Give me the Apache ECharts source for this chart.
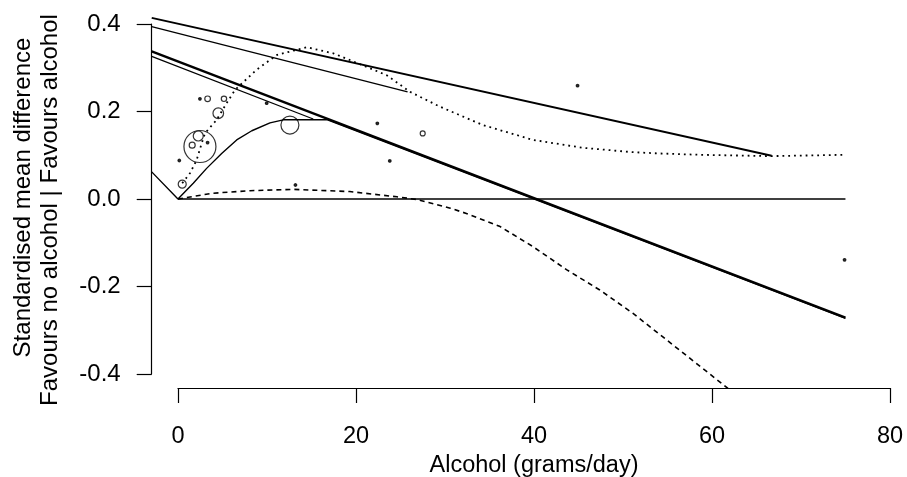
<!DOCTYPE html>
<html>
<head>
<meta charset="utf-8">
<script src="https://cdn.jsdelivr.net/npm/echarts@6/dist/echarts.min.js"></script>
<style>
  html, body { margin: 0; padding: 0; background: #fff; }
  #chart { width: 907px; height: 477px; }
</style>
</head>
<body>
<div id="chart"></div>
<script>
// axis ticks
const xTicks = [0, 20, 40, 60, 80];
const yTicks = [-0.4, -0.2, 0.0, 0.2, 0.4];

// fitted curves as [alcohol, smd]
const noEffectLine = [[0, 0], [75, 0]];
const linearFit = [[-2.95, 0.3375], [75, -0.271]];
const linearFitLow = [[-2.95, 0.326], [15.2, 0.183]];
const upperBoundA = [[-2.95, 0.414], [66.7, 0.099]];
const upperBoundB = [[-2.95, 0.394], [25.8, 0.245]];
const thresholdFit = [
  [-2.95, 0.062], [0, 0], [1.72, 0.036], [3.22, 0.070], [4.91, 0.104],
  [6.6, 0.135], [8.3, 0.156], [10.34, 0.174], [11.83, 0.181], [16.8, 0.181],
  [75, -0.273]
];
const dottedFit = [
  [0.48, 0.036], [1.35, 0.059], [2.1, 0.089], [2.66, 0.127], [3.03, 0.150],
  [4.35, 0.181], [5.47, 0.219], [6.4, 0.249], [8.8, 0.295], [11.1, 0.329],
  [14.46, 0.347], [17.45, 0.333], [21.2, 0.302], [23.45, 0.283], [26.07, 0.245],
  [29.44, 0.211], [34.27, 0.169], [39.9, 0.135], [45.5, 0.117], [51.1, 0.107],
  [54.2, 0.104], [58.65, 0.101], [66.6, 0.098], [75, 0.101]
];
const dashedFit = [
  [0, 0], [3.79, 0.013], [8.09, 0.019], [12.96, 0.022], [19.3, 0.017],
  [24.6, 0.005], [26.8, -0.001], [30.6, -0.021], [32.4, -0.033], [36.2, -0.063],
  [39.9, -0.109], [43.7, -0.162], [47.4, -0.208], [51.1, -0.261], [54.9, -0.322],
  [58.7, -0.383], [61.8, -0.433]
];

// studies
const studyDose = [2.47, 2.28, 1.60, 3.33, 0.15, 0.48, 4.53, 5.17, 3.33, 2.47, 12.58, 13.2, 22.4, 23.8, 27.5, 44.9, 74.9, 9.97];
const studySmd = [0.120, 0.144, 0.123, 0.129, 0.088, 0.034, 0.196, 0.229, 0.229, 0.229, 0.169, 0.032, 0.173, 0.087, 0.150, 0.259, -0.139, 0.219];
const studyWeight = [100, 9.8, 3.5, 0.66, 0.66, 6.25, 11, 2.8, 3.1, 0.66, 31.6, 0.66, 0.66, 0.66, 2.4, 0.66, 0.66, 0.5];

const font = 'Liberation Sans';
const fs = 24;

function line(data, width, type) {
  return {
    type: 'line', xAxisIndex: 0, yAxisIndex: 0, data: data,
    showSymbol: false, symbol: 'none', silent: true, clip: true,
    lineStyle: { color: '#000', width: width, type: type || 'solid' }
  };
}

function bubbleSize(w) {
  return Math.max(2.6, 32 * Math.sqrt(w / 100));
}

const chart = echarts.init(document.getElementById('chart'), null, { renderer: 'canvas' });
chart.setOption({
  animation: false,
  backgroundColor: '#fff',
  grid: [
    { left: 151.7, top: 10, width: 742.7, height: 378, outerBoundsMode: 'none' },
    { left: 178, top: 24, width: 712, height: 350, outerBoundsMode: 'none' }
  ],
  xAxis: [
    { gridIndex: 0, type: 'value', min: -2.95, max: 80.5, show: false },
    {
      gridIndex: 1, type: 'value', min: xTicks[0], max: xTicks[xTicks.length - 1], interval: 20,
      position: 'bottom', offset: 14,
      axisLine: { show: true, onZero: false, lineStyle: { color: '#000', width: 1.2 } },
      axisTick: { show: true, length: 15, lineStyle: { color: '#000', width: 1.2 } },
      axisLabel: { color: '#000', fontFamily: font, fontSize: 23.5, margin: 37 },
      splitLine: { show: false },
      name: 'Alcohol (grams/day)', nameLocation: 'middle', nameGap: 60,
      nameTextStyle: { color: '#000', fontFamily: font, fontSize: 23.5 }
    }
  ],
  yAxis: [
    { gridIndex: 0, type: 'value', min: -0.432, max: 0.432, show: false },
    {
      gridIndex: 1, type: 'value', min: yTicks[0], max: yTicks[yTicks.length - 1], interval: 0.2,
      position: 'left', offset: 26.3,
      axisLine: { show: true, onZero: false, lineStyle: { color: '#000', width: 1.2 } },
      axisTick: { show: true, length: 15, lineStyle: { color: '#000', width: 1.2 } },
      axisLabel: {
        color: '#000', fontFamily: font, fontSize: fs, margin: 31,
        formatter: v => v.toFixed(1)
      },
      splitLine: { show: false }
    }
  ],
  graphic: [
    {
      type: 'text', x: 23.3, y: 197.5, rotation: Math.PI / 2,
      style: { text: 'Standardised mean difference', fill: '#000', font: fs + 'px "' + font + '"', align: 'center', verticalAlign: 'middle' }
    },
    {
      type: 'text', x: 50, y: 210, rotation: Math.PI / 2,
      style: { text: 'Favours no alcohol | Favours alcohol', fill: '#000', font: fs + 'px "' + font + '"', align: 'center', verticalAlign: 'middle' }
    }
  ],
  series: [
    line(noEffectLine, 1.3),
    line(upperBoundA, 2),
    line(upperBoundB, 1.3),
    line(linearFit, 2.4),
    line(linearFitLow, 1.2),
    line(thresholdFit, 1.4),
    line(dottedFit, 1.8, [1.8, 4]),
    line(dashedFit, 1.6, [5, 4]),
    {
      type: 'scatter', xAxisIndex: 0, yAxisIndex: 0, silent: true,
      data: studyDose.map((d, i) => ({
        value: [d, studySmd[i], studyWeight[i]],
        itemStyle: { color: bubbleSize(studyWeight[i]) < 4 ? '#000' : 'rgba(0,0,0,0)' }
      })),
      symbol: 'circle',
      symbolSize: v => bubbleSize(v[2]),
      itemStyle: { borderColor: '#000', borderWidth: 1.2 }
    }
  ]
});
</script>
</body>
</html>
